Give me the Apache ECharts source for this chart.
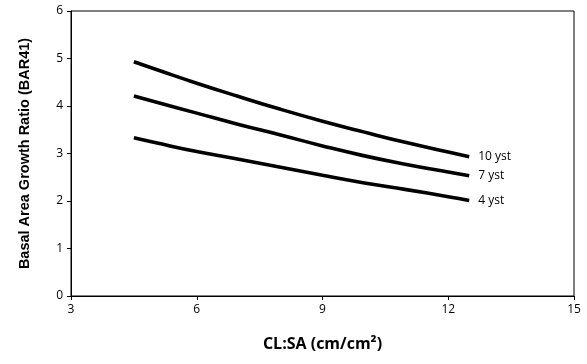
<!DOCTYPE html>
<html>
<head>
<meta charset="utf-8">
<script src="https://cdn.jsdelivr.net/npm/echarts@6/dist/echarts.min.js"></script>
<style>html,body{margin:0;padding:0;background:#fff}#c{width:587px;height:364px}</style>
</head>
<body>
<div id="c"></div>
<script>
var xValues = [4.5, 5, 6, 7, 8, 9, 10, 11, 12, 12.5];
var yst10 = [4.93, 4.78, 4.48, 4.20, 3.93, 3.68, 3.45, 3.23, 3.03, 2.93];
var yst7  = [4.21, 4.09, 3.85, 3.61, 3.39, 3.16, 2.95, 2.77, 2.61, 2.53];
var yst4  = [3.33, 3.23, 3.04, 2.88, 2.71, 2.54, 2.38, 2.24, 2.09, 2.01];
var seriesNames = ['10 yst', '7 yst', '4 yst'];
var xTicks = [3, 6, 9, 12, 15];
var yTicks = [0, 1, 2, 3, 4, 5, 6];

function pairs(ys){ return xValues.map(function(x,i){ return [x, ys[i]]; }); }
var labelFont = '"Open Sans", sans-serif';
function mk(name, ys){
  return {
    name: name, type: 'line', data: pairs(ys), smooth: true, showSymbol: false,
    lineStyle: {color: '#000', width: 3.6},
    endLabel: {show: true, formatter: name, color: '#000', fontFamily: labelFont, fontSize: 12, distance: 9},
    emphasis: {disabled: true}
  };
}
var chart = echarts.init(document.getElementById('c'), null, {renderer: 'canvas'});
chart.setOption({
  animation: false,
  backgroundColor: '#fff',
  grid: {left: 71, right: 13, top: 11, bottom: 68, show: true, borderColor: '#000', borderWidth: 1, backgroundColor: 'transparent'},
  xAxis: {
    type: 'value', min: xTicks[0], max: xTicks[xTicks.length-1], interval: 3,
    name: 'CL:SA (cm/cm²)', nameLocation: 'middle', nameGap: 40,
    nameTextStyle: {fontFamily: labelFont, fontWeight: 'bold', fontSize: 16, color: '#000'},
    axisLine: {show: true, lineStyle: {color: '#000', width: 1}},
    axisTick: {show: true, length: 4, lineStyle: {color: '#000'}},
    axisLabel: {color: '#000', fontFamily: labelFont, fontSize: 12, margin: 8},
    splitLine: {show: false}
  },
  yAxis: {
    type: 'value', min: yTicks[0], max: yTicks[yTicks.length-1], interval: 1,
    name: 'Basal Area Growth Ratio (BAR41)', nameLocation: 'middle', nameGap: 39,
    nameTextStyle: {fontFamily: '"Liberation Sans", Arial, sans-serif', fontWeight: 'bold', fontSize: 14.5, color: '#000'},
    axisLine: {show: true, lineStyle: {color: '#000', width: 1}},
    axisTick: {show: true, length: 4, lineStyle: {color: '#000'}},
    axisLabel: {color: '#000', fontFamily: labelFont, fontSize: 12, margin: 8},
    splitLine: {show: false}
  },
  series: [mk(seriesNames[0], yst10), mk(seriesNames[1], yst7), mk(seriesNames[2], yst4)]
});
</script>
</body>
</html>
